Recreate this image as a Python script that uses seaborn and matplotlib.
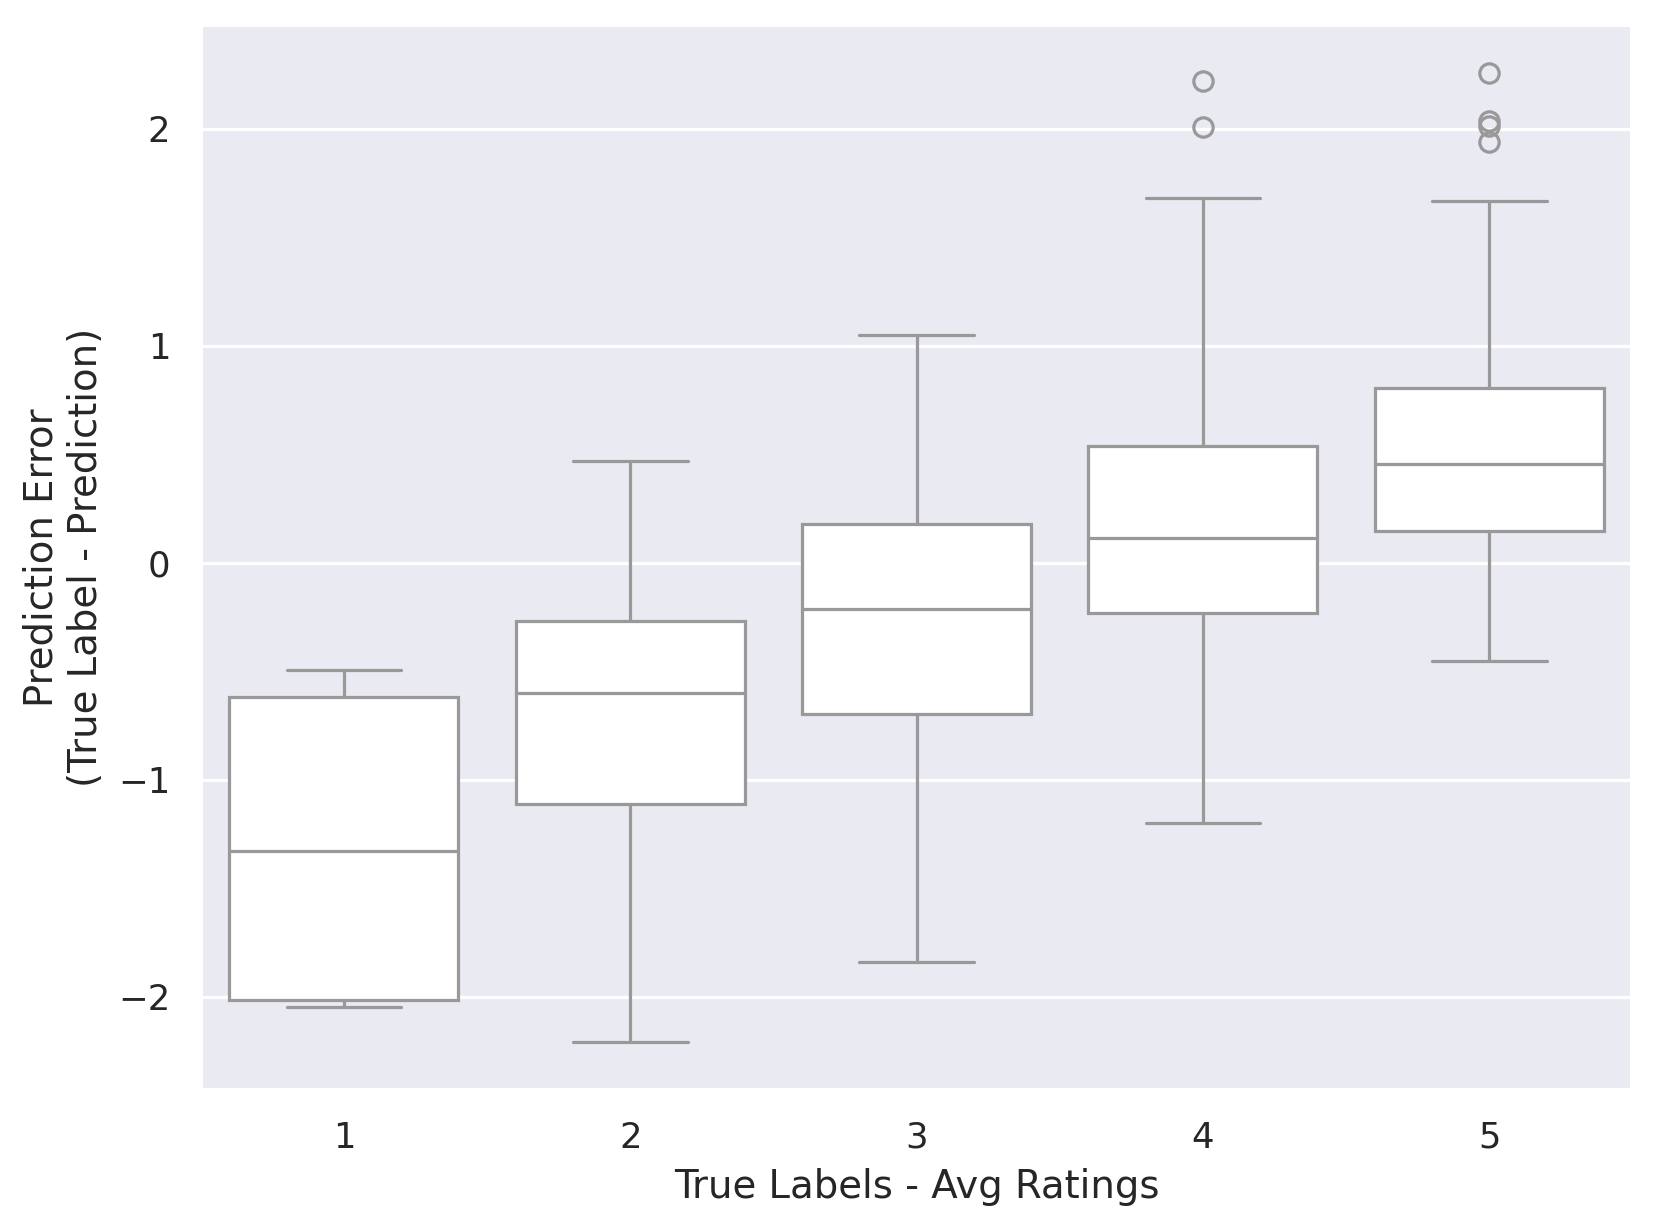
import matplotlib
matplotlib.use("Agg")
import matplotlib.pyplot as plt
import seaborn as sns
import pandas as pd

# Box statistics
categories = [1, 2, 3, 4, 5]
whisker_low = [-2.049, -2.209, -1.839, -1.202, -0.453]
q1 = [-2.015, -1.114, -0.696, -0.234, 0.146]
median = [-1.328, -0.599, -0.214, 0.112, 0.453]
q3 = [-0.618, -0.268, 0.180, 0.540, 0.803]
whisker_high = [-0.496, 0.467, 1.051, 1.679, 1.669]
outliers = [[], [], [], [2.007, 2.219], [1.938, 2.015, 2.038, 2.257]]

# Build a small value list per category whose quartiles / whiskers equal the read statistics
rows = []
for cat, lo, a, m, b, hi, fl in zip(categories, whisker_low, q1, median, q3, whisker_high, outliers):
    k = len(fl) + 1
    vals = [lo] + [a] * k + [m] * k + [b] * k + [hi] + list(fl)
    for v in vals:
        rows.append({"True Labels - Avg Ratings": cat,
                     "error": v})
df = pd.DataFrame(rows)

sns.set_theme(style="darkgrid")
DPI = 232
fig = plt.figure(figsize=(1659 / DPI, 1232 / DPI), dpi=DPI)
ax = fig.add_axes([0.121, 0.115, 0.863, 0.865])
sns.boxplot(data=df, x="True Labels - Avg Ratings", y="error", color="white", ax=ax)
ax.set_ylabel("Prediction Error\n(True Label - Prediction)")
ax.set_xlabel("True Labels - Avg Ratings")
fig.savefig("out.png", dpi=DPI)
